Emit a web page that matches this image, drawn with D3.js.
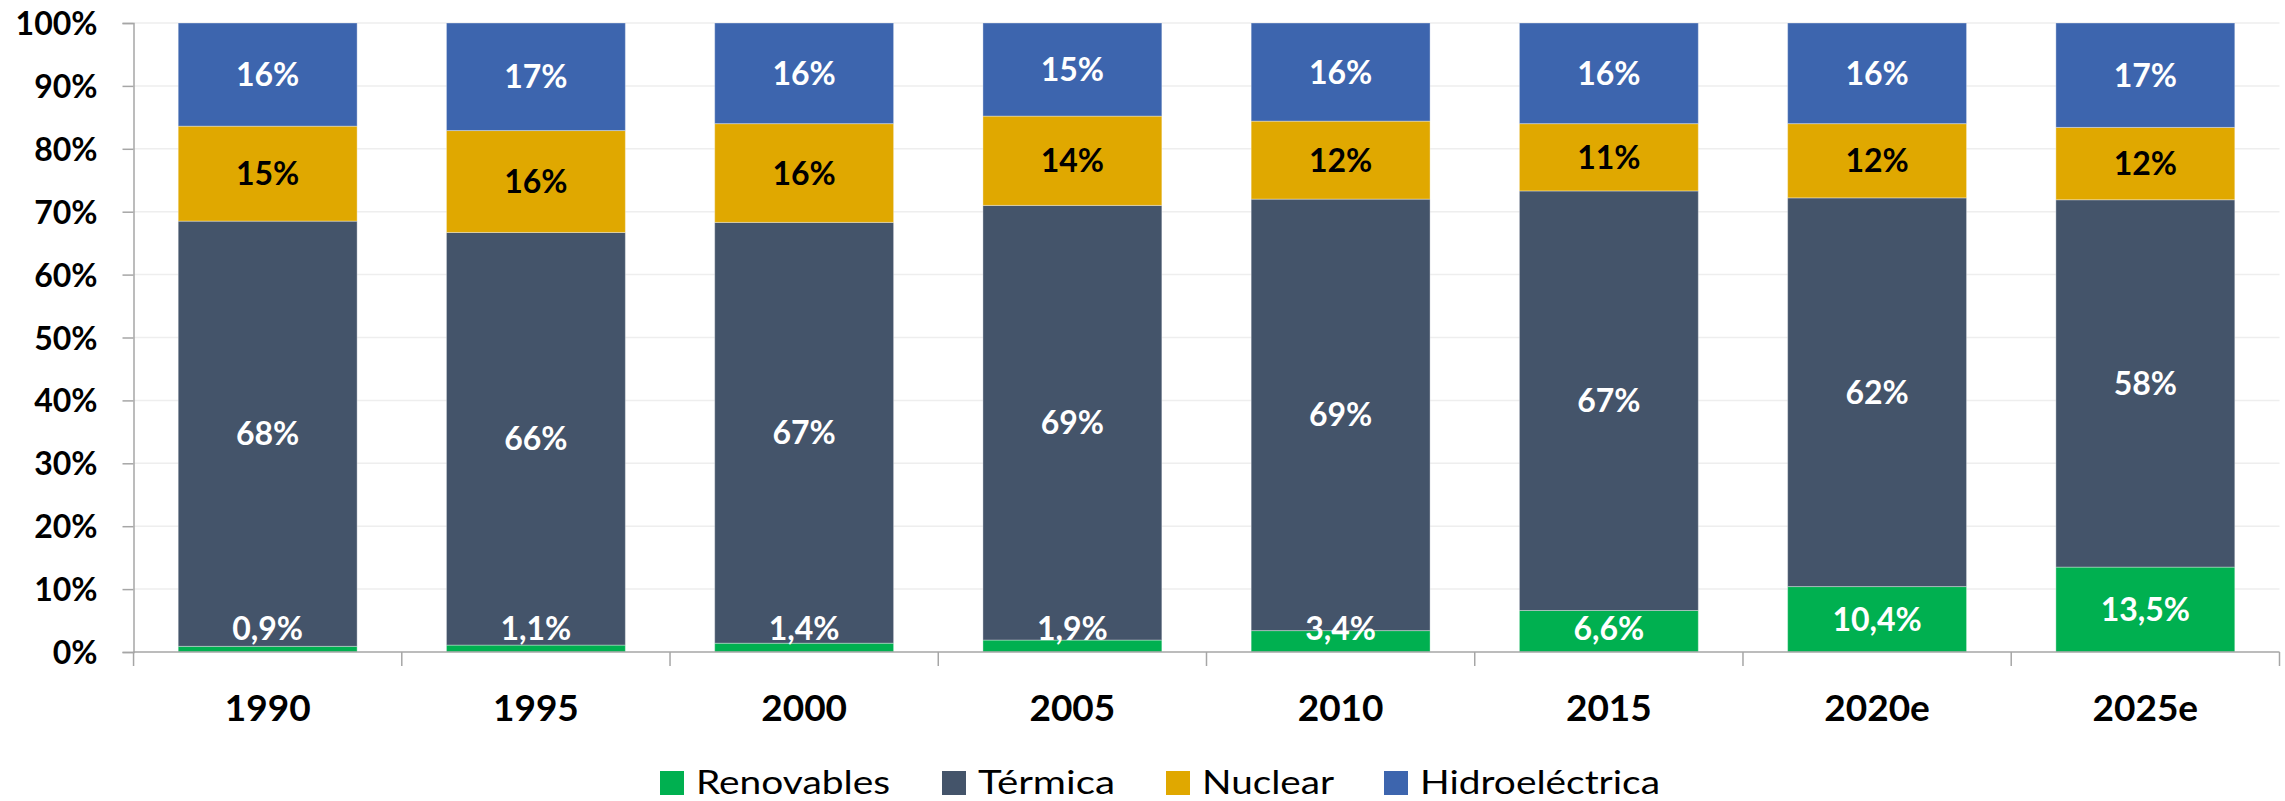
<!DOCTYPE html>
<html>
<head>
<meta charset="utf-8">
<script src="https://cdn.jsdelivr.net/npm/d3@7"></script>
<style>
  body { margin: 0; background: #fff; }
  svg { display: block; }
</style>
</head>
<body>
<div id="vizArea"></div>
<script>

var w = 2285
var h = 801

// DATA ********************************
var years = ["1990", "1995", "2000", "2005", "2010", "2015", "2020e", "2025e"];
var seriesNames = ["Renovables", "Térmica", "Nuclear", "Hidroeléctrica"];

// shares in %
var renovables    = [0.9, 1.1, 1.4, 1.9, 3.4, 6.6, 10.4, 13.5];
var termica       = [67.6, 65.6, 66.9, 69.1, 68.6, 66.7, 61.8, 58.4];
var nuclear       = [15.1, 16.2, 15.7, 14.2, 12.4, 10.7, 11.8, 11.5];
var hidroelectrica = [16.4, 17.1, 16.0, 14.8, 15.6, 16.0, 16.0, 16.6];

var yTicks = [0, 10, 20, 30, 40, 50, 60, 70, 80, 90, 100];

var colors = {
    "Renovables": "#00B050",
    "Térmica": "#44546A",
    "Nuclear": "#E0A800",
    "Hidroeléctrica": "#3D65AE"
};
var labelColors = {
    "Renovables": "#fff",
    "Térmica": "#fff",
    "Nuclear": "#000",
    "Hidroeléctrica": "#fff"
};

// build rows for the stack
var rows = years.map(function(y, i) {
    return {
        year: y,
        "Renovables": renovables[i],
        "Térmica": termica[i],
        "Nuclear": nuclear[i],
        "Hidroeléctrica": hidroelectrica[i]
    };
});

// SET-UP ********************************
var margin = {left: 133.5, right: 5.5, top: 23, bottom: 149};

var svg = d3.select("#vizArea").append("svg")
    .attr("width", w)
    .attr("height", h);

var x = d3.scaleBand()
    .domain(years)
    .range([margin.left, w - margin.right])
    .paddingInner(0.333)
    .paddingOuter(0.1667);

var y = d3.scaleLinear()
    .domain([0, 100])
    .range([h - margin.bottom, margin.top]);

var step = x.step();

// gridlines
svg.append("g")
    .selectAll("line")
    .data(yTicks.filter(function(t){ return t > 0; }))
    .enter()
    .append("line")
    .attr("x1", margin.left)
    .attr("x2", w - margin.right)
    .attr("y1", function(d){ return y(d); })
    .attr("y2", function(d){ return y(d); })
    .attr("stroke", "#EEEEEE")
    .attr("stroke-width", 1.5);

// y axis
var yAxis = d3.axisLeft(y)
    .tickValues(yTicks)
    .tickFormat(function(d){ return d + "%"; })
    .tickSize(11)
    .tickPadding(25);

var gy = svg.append("g")
    .attr("transform", "translate(" + margin.left + ",0)")
    .call(yAxis);
gy.select(".domain").attr("stroke", "#A6A6A6").attr("stroke-width", 1.5);
gy.selectAll(".tick line").attr("stroke", "#A6A6A6").attr("stroke-width", 1.5);
gy.selectAll(".tick text")
    .attr("font-family", "Lato, sans-serif")
    .attr("font-weight", "bold")
    .attr("font-size", 32)
    .attr("fill", "#000")
    .attr("dy", "0.36em");

// BARS ********************************
var stack = d3.stack().keys(seriesNames);
var stacked = stack(rows);

var layers = svg.append("g")
    .selectAll("g")
    .data(stacked)
    .enter()
    .append("g")
    .attr("fill", function(d){ return colors[d.key]; });

layers.selectAll("rect")
    .data(function(d){ return d; })
    .enter()
    .append("rect")
    .attr("x", function(d){ return x(d.data.year); })
    .attr("width", x.bandwidth())
    .attr("y", function(d){ return y(d[1]); })
    .attr("height", function(d){ return y(d[0]) - y(d[1]); })
    .attr("stroke", "rgba(255,255,255,0.35)")
    .attr("stroke-width", 1);

// x axis: line at 0% with ticks between categories
var y0 = y(0);
svg.append("line")
    .attr("x1", margin.left)
    .attr("x2", w - margin.right)
    .attr("y1", y0)
    .attr("y2", y0)
    .attr("stroke", "#A6A6A6")
    .attr("stroke-width", 1.5);

var boundaries = years.map(function(d){ return x(d) - (step - x.bandwidth()) / 2; });
boundaries.push(w - margin.right);
svg.append("g")
    .selectAll("line")
    .data(boundaries)
    .enter()
    .append("line")
    .attr("x1", function(d){ return d; })
    .attr("x2", function(d){ return d; })
    .attr("y1", y0)
    .attr("y2", y0 + 14)
    .attr("stroke", "#A6A6A6")
    .attr("stroke-width", 1.5);

svg.append("g")
    .selectAll("text")
    .data(years)
    .enter()
    .append("text")
    .attr("x", function(d){ return x(d) + x.bandwidth() / 2; })
    .attr("y", 708)
    .attr("dy", "0.36em")
    .attr("text-anchor", "middle")
    .attr("font-family", "Lato, sans-serif")
    .attr("font-weight", "bold")
    .attr("font-size", 37)
    .attr("fill", "#000")
    .text(function(d){ return d; });

// DATA LABELS ********************************
// drawn in their own group, above all bars, so small
// renovables labels are not hidden by the next segment
function fmt(key, v) {
    if (key == "Renovables") return d3.format(".1f")(v).replace(".", ",") + "%";
    return Math.round(v) + "%";
}

var labelLayers = svg.append("g")
    .selectAll("g")
    .data(stacked)
    .enter()
    .append("g");

labelLayers.each(function(layer) {
    d3.select(this).selectAll("text")
        .data(layer)
        .enter()
        .append("text")
        .attr("x", function(d){ return x(d.data.year) + x.bandwidth() / 2; })
        .attr("y", function(d){
            var c = (y(d[0]) + y(d[1])) / 2;
            // keep the label inside the plot area
            return Math.min(c, y0 - 24);
        })
        .attr("dy", "0.36em")
        .attr("text-anchor", "middle")
        .attr("font-family", "Lato, sans-serif")
        .attr("font-weight", "bold")
        .attr("font-size", 32)
        .attr("fill", labelColors[layer.key])
        .text(function(d){ return fmt(layer.key, d.data[layer.key]); });
});

// LEGEND ********************************
var legendX = [660, 942, 1166, 1384];
var legendTextW = [194, 137, 132, 240];
var legend = svg.append("g")
    .selectAll("g")
    .data(seriesNames)
    .enter()
    .append("g")
    .attr("transform", function(d, i){ return "translate(" + legendX[i] + ",783)"; });

legend.append("rect")
    .attr("x", 0)
    .attr("y", -12)
    .attr("width", 24)
    .attr("height", 24)
    .attr("fill", function(d){ return colors[d]; });

legend.append("text")
    .attr("x", 36)
    .attr("y", 11)
    .attr("font-family", "Lato, sans-serif")
    .attr("font-size", 32)
    .attr("textLength", function(d, i){ return legendTextW[i]; })
    .attr("lengthAdjust", "spacingAndGlyphs")
    .attr("fill", "#000")
    .text(function(d){ return d; });

</script>
</body>
</html>
